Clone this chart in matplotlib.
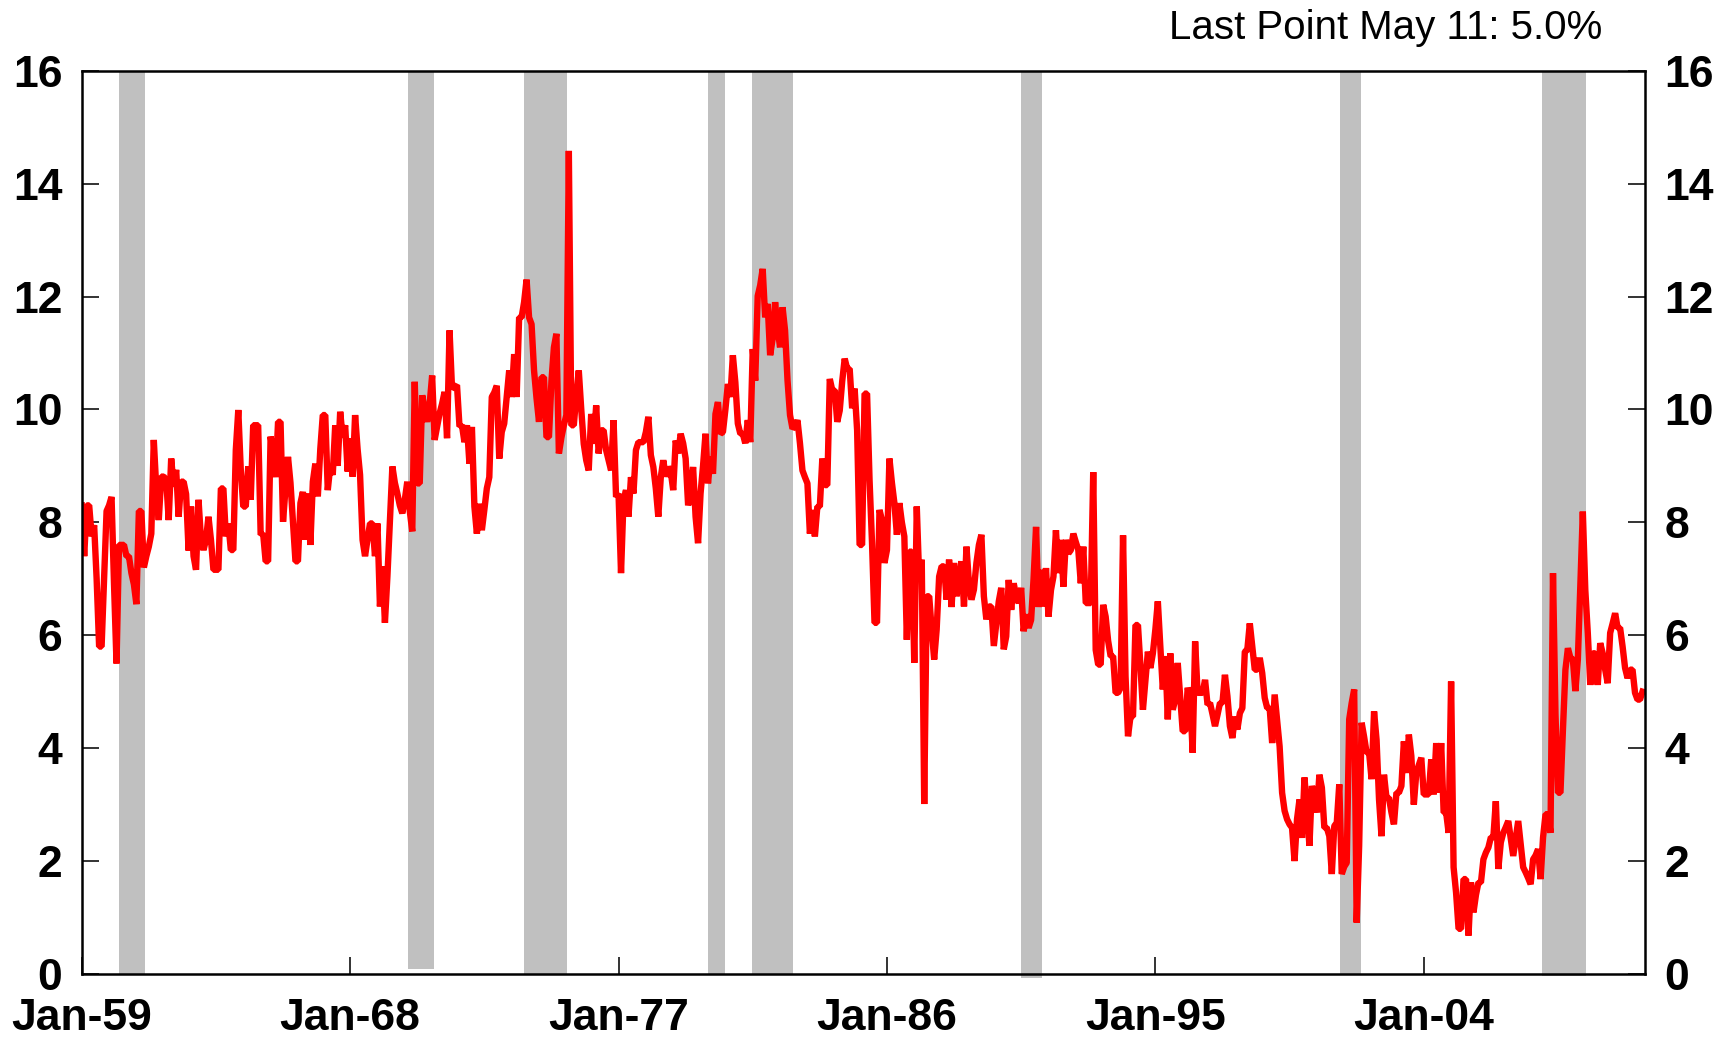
import matplotlib
matplotlib.use("Agg")
import matplotlib.pyplot as plt
import numpy as np

# Personal saving rate, monthly, Jan 1959 - May 2011 (%)
sav_1959_1964 = [
    8.3, 7.4, 8.3, 8.3, 7.75, 7.95, 7.0, 5.8, 5.8, 7.0, 8.2, 8.3,
    8.45, 6.9, 5.5, 7.6, 7.6, 7.6, 7.4, 7.4, 7.1, 6.9, 6.55, 8.2,
    8.2, 7.2, 7.4, 7.57, 7.8, 9.46, 8.6, 8.04, 8.81, 8.81, 8.75, 8.04,
    9.13, 8.63, 8.93, 8.1, 8.72, 8.72, 8.5, 7.5, 8.28, 7.4, 7.16, 8.4,
    7.69, 7.51, 7.69, 8.1, 7.69, 7.16, 7.16, 7.16, 8.6, 8.6, 7.75, 7.98,
    7.51, 7.51, 9.28, 9.99, 8.93, 8.28, 8.28, 8.99, 8.4, 9.72, 9.72, 9.72,
]
sav_1965_1974 = [
    7.78, 7.8, 7.31, 7.31, 9.52, 9.22, 8.8, 9.78, 9.78, 8.01, 8.6, 9.16,
    8.7, 8.0, 7.31, 7.31, 8.34, 8.54, 7.69, 8.51, 7.6, 8.72, 9.04, 8.46,
    9.3, 9.9, 9.9, 8.57, 8.99, 8.84, 9.72, 9.0, 9.96, 9.5, 9.72, 8.9,
    9.49, 8.81, 9.9, 9.3, 8.84, 7.69, 7.4, 7.7, 7.98, 7.98, 7.4, 7.98,
    6.51, 7.22, 6.22, 7.04, 8.0, 8.99, 8.7, 8.51, 8.3, 8.16, 8.4, 8.72,
    8.2, 7.84, 10.49, 8.69, 8.69, 10.25, 10.0, 9.78, 10.1, 10.6, 9.46, 9.7,
    9.93, 10.1, 10.31, 9.49, 11.4, 10.37, 10.4, 10.43, 9.7, 9.72, 9.42, 9.72,
    9.04, 9.69, 8.28, 7.8, 8.33, 7.86, 8.22, 8.6, 8.8, 10.22, 10.3, 10.42,
    9.13, 9.6, 9.75, 10.22, 10.69, 10.22, 10.98, 10.22, 11.63, 11.63, 11.9, 12.3,
    11.63, 11.51, 10.69, 10.2, 9.78, 10.57, 10.57, 9.51, 9.51, 10.5, 11.1, 11.34,
]
sav_1975_1984 = [
    9.22, 9.5, 9.72, 9.9, 14.58, 9.72, 9.72, 10.25, 10.69, 10.0, 9.39, 9.1,
    8.92, 9.92, 9.39, 10.07, 9.22, 9.63, 9.63, 9.28, 9.1, 8.92, 9.81, 8.45,
    8.51, 7.1, 8.39, 8.57, 8.1, 8.8, 8.51, 9.28, 9.42, 9.42, 9.42, 9.6,
    9.87, 9.19, 8.98, 8.6, 8.1, 8.8, 9.1, 8.81, 8.98, 8.9, 8.57, 9.45,
    9.22, 9.57, 9.4, 9.13, 8.3, 8.6, 8.98, 8.1, 7.63, 8.51, 9.0, 9.57,
    8.69, 9.16, 8.86, 9.92, 10.13, 9.57, 9.6, 10.0, 10.45, 10.22, 10.96, 10.48,
    9.75, 9.57, 9.57, 9.4, 9.81, 9.42, 11.07, 10.51, 12.01, 12.2, 12.49, 11.63,
    11.87, 10.96, 11.25, 11.9, 11.43, 11.1, 11.81, 11.4, 10.51, 9.9, 9.66, 9.7,
    9.81, 9.4, 8.92, 8.8, 8.69, 7.8, 8.22, 7.75, 8.28, 8.28, 9.13, 8.66,
    8.66, 10.54, 10.34, 10.34, 9.78, 9.98, 10.5, 10.9, 10.72, 10.72, 10.02, 10.37,
]
sav_1985_1994 = [
    9.63, 7.6, 7.6, 10.28, 10.28, 8.75, 7.63, 6.22, 6.22, 8.22, 8.04, 7.28,
    7.51, 9.13, 8.7, 8.34, 7.78, 8.34, 8.0, 7.75, 5.92, 7.48, 7.48, 5.51,
    8.28, 6.98, 7.34, 3.01, 6.69, 6.69, 6.1, 5.57, 6.1, 7.04, 7.22, 7.22,
    6.63, 7.34, 6.5, 7.28, 6.69, 6.98, 7.31, 6.51, 7.57, 6.92, 6.63, 6.81,
    7.28, 7.6, 7.78, 6.69, 6.28, 6.51, 6.51, 5.81, 6.2, 6.6, 6.84, 5.75,
    5.98, 6.98, 6.45, 6.92, 6.69, 6.57, 6.84, 6.07, 6.37, 6.13, 6.27, 7.0,
    7.92, 6.5, 7.16, 6.51, 7.19, 6.33, 6.8, 7.04, 7.86, 7.1, 7.69, 6.86,
    7.69, 7.45, 7.51, 7.8, 7.65, 7.51, 6.92, 7.57, 6.57, 6.57, 6.57, 8.89,
    5.74, 5.48, 5.48, 6.54, 6.33, 5.9, 5.63, 5.63, 4.98, 4.98, 5.07, 7.77,
    5.27, 4.21, 4.56, 4.56, 6.18, 6.18, 5.45, 4.68, 5.2, 5.71, 5.42, 5.68,
]
sav_1995_2004 = [
    6.1, 6.6, 5.8, 5.04, 5.63, 4.51, 5.68, 4.68, 4.86, 5.51, 4.9, 4.3,
    4.3, 5.07, 4.92, 3.92, 5.89, 4.98, 4.98, 4.98, 5.21, 4.77, 4.8, 4.6,
    4.39, 4.59, 4.8, 4.8, 5.3, 4.92, 4.39, 4.18, 4.56, 4.33, 4.62, 4.71,
    5.71, 5.74, 6.21, 5.8, 5.39, 5.39, 5.6, 5.33, 4.89, 4.71, 4.71, 4.09,
    4.95, 4.5, 4.03, 3.21, 2.89, 2.74, 2.65, 2.59, 2.0, 2.74, 3.09, 2.41,
    3.48, 2.9, 2.27, 3.33, 3.15, 2.86, 3.53, 3.3, 2.59, 2.59, 2.44, 1.77,
    2.62, 2.68, 3.36, 1.77, 1.9, 1.97, 4.51, 4.8, 5.04, 0.91, 2.27, 4.45,
    4.2, 3.92, 3.92, 3.45, 4.65, 4.15, 3.09, 2.44, 3.53, 3.12, 3.12, 2.86,
    2.65, 3.21, 3.21, 3.33, 4.12, 3.56, 4.24, 3.86, 3.0, 3.56, 3.7, 3.83,
    3.18, 3.18, 3.18, 3.8, 3.18, 4.09, 3.21, 4.09, 2.86, 2.86, 2.5, 5.18,
]
sav_2005_2011 = [
    1.89, 1.44, 0.8, 0.8, 1.68, 1.68, 0.68, 1.62, 1.09, 1.4, 1.62, 1.62,
    2.03, 2.15, 2.24, 2.42, 2.42, 3.06, 1.86, 2.33, 2.5, 2.6, 2.71, 2.4,
    2.09, 2.4, 2.71, 2.3, 1.89, 1.8, 1.7, 1.59, 2.03, 2.1, 2.21, 1.68,
    2.42, 2.83, 2.83, 2.5, 7.1, 4.6, 3.21, 3.21, 4.33, 5.39, 5.77, 5.6,
    5.57, 5.01, 5.57, 6.9, 8.19, 6.8, 6.04, 5.12, 5.68, 5.68, 5.12, 5.86,
    5.68, 5.39, 5.15, 6.04, 6.21, 6.39, 6.13, 6.13, 5.8, 5.42, 5.24, 5.39,
    5.39, 4.98, 4.86, 4.86, 5.0,
]

# Recessions (months since Jan 1959)
rec_start = [15.2, 131.2, 178.0, 252.0, 269.9, 377.8, 506.3, 587.5]
rec_end = [25.4, 141.9, 195.4, 258.7, 286.4, 386.3, 514.8, 605.4]
rec_bottom = [0.0, 0.08, 0.0, 0.0, 0.0, -0.08, 0.0, -0.04]
rec_top = 16.0

tick_months = [0, 108, 216, 324, 432, 540]
tick_labels = ["Jan-59", "Jan-68", "Jan-77", "Jan-86", "Jan-95", "Jan-04"]
y_ticks = [0, 2, 4, 6, 8, 10, 12, 14, 16]
title_text = "Last Point May 11: 5.0%"

saving = np.array(sav_1959_1964 + sav_1965_1974 + sav_1975_1984 +
                  sav_1985_1994 + sav_1995_2004 + sav_2005_2011)
months = np.arange(len(saving))

plt.rcParams['font.family'] = ['Liberation Sans', 'DejaVu Sans']

fig = plt.figure(figsize=(17.35, 10.37), dpi=100)
ax = fig.add_axes([0.0471, 0.0608, 0.901, 0.871])

for s, e, b in zip(rec_start, rec_end, rec_bottom):
    ax.bar((s + e) / 2, rec_top - b, bottom=b, width=e - s,
           color='#C0C0C0', linewidth=0, zorder=1, clip_on=False)

ax.plot(months, saving, color='#FF0000', lw=4.6, solid_joinstyle='bevel', zorder=3)

ax.set_xlim(0, 629)
ax.set_ylim(0, 16)
ax.set_xticks(tick_months)
ax.set_xticklabels(tick_labels)
ax.set_yticks(y_ticks)
ax.set_yticklabels([str(v) for v in y_ticks])

for sp in ax.spines.values():
    sp.set_linewidth(1.8)
    sp.set_color('black')
    sp.set_zorder(5)

ax.tick_params(axis='both', direction='in', length=12, width=1.4,
               color='#333333', labelsize=32)
ax.tick_params(axis='y', right=True, labelright=True, pad=14)
ax.tick_params(axis='x', pad=17)
for lab in ax.get_xticklabels() + ax.get_yticklabels():
    lab.set_fontweight('bold')
for t in ax.yaxis.get_major_ticks():
    t.label2.set_fontweight('bold')
    t.label2.set_fontsize(32)

fig.text(1602 / 1735, 1 - 39 / 1037, title_text, ha='right', va='baseline',
         fontsize=29)

fig.savefig("out.png", dpi=100)
